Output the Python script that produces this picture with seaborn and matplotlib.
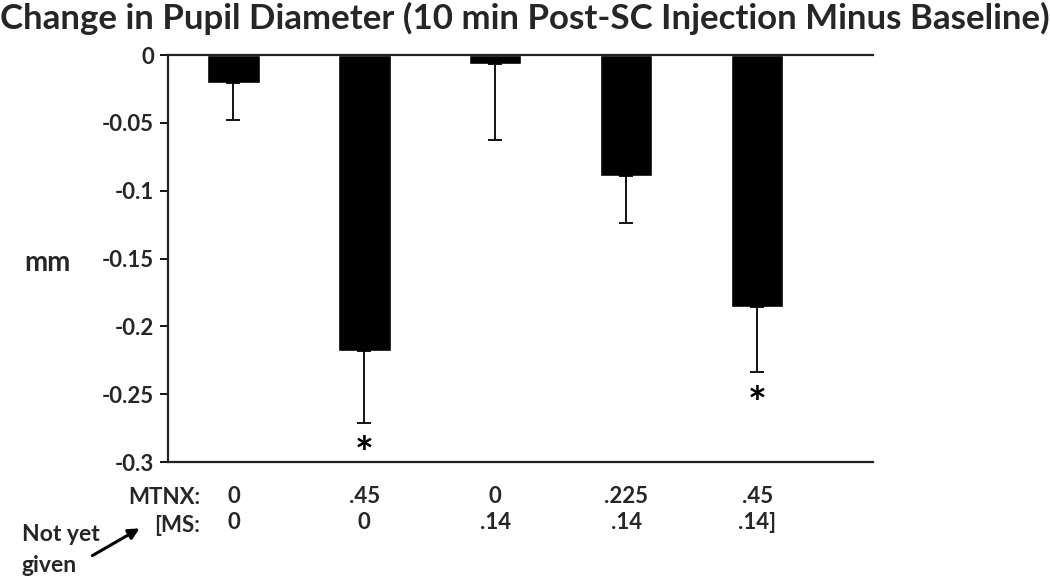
import matplotlib
matplotlib.use("Agg")
import matplotlib.pyplot as plt
import seaborn as sns
import pandas as pd
import numpy as np

# ---- data ----
groups = ["G1", "G2", "G3", "G4", "G5"]
mtnx_labels = ["0", ".45", "0", ".225", ".45"]
ms_labels = ["0", "0", ".14", ".14", ".14]"]
means = [-0.0206, -0.218, -0.0066, -0.0892, -0.186]
sem = [0.0274, 0.053, 0.0561, 0.0344, 0.048]
significant = [False, True, False, False, True]
yticks = [0, -0.05, -0.1, -0.15, -0.2, -0.25, -0.3]
ytick_labels = ["0", "-0.05", "-0.1", "-0.15", "-0.2", "-0.25", "-0.3"]

sns.set_theme(style="white")
plt.rcParams["font.family"] = ["Lato", "DejaVu Sans"]
plt.rcParams["font.weight"] = "bold"

df = pd.DataFrame({"group": groups, "mean": means})

fig = plt.figure(figsize=(10.5, 5.76), dpi=100)
ax = fig.add_axes([0.16, 0.1979, 0.6714, 0.7066])

sns.barplot(data=df, x="group", y="mean", color="black", width=0.4,
            errorbar=None, ax=ax, saturation=1)

x = np.arange(len(groups))
ax.errorbar(x, means, yerr=[sem, [0] * len(sem)], fmt="none",
            ecolor="black", elinewidth=1.3, capsize=5, capthick=1.3)

for xi, m, s, sig in zip(x, means, sem, significant):
    if sig:
        ax.text(xi, m - s - 0.024, "*", ha="center", va="center",
                fontsize=32, fontweight="bold", color="black")

ax.set_ylim(-0.3, 0)
ax.set_xlim(-0.5, 4.885)
ax.set_yticks(yticks)
ax.set_yticklabels(ytick_labels, fontsize=16, fontweight="bold")
ax.set_xticks(x)
ax.set_xticklabels([f"{a}\n{b}" for a, b in zip(mtnx_labels, ms_labels)],
                   fontsize=16, fontweight="bold", linespacing=1.3)
ax.tick_params(axis="x", length=0, pad=17)
ax.tick_params(axis="y", direction="out", length=6, width=1.3, color="black",
               left=True, pad=4)
ax.set_xlabel("")
ax.set_ylabel("")

for side in ["left", "top", "bottom"]:
    ax.spines[side].set_visible(True)
    ax.spines[side].set_color("#222222")
    ax.spines[side].set_linewidth(1.6)
ax.spines["right"].set_visible(False)

fig.text(0.5, 0.968, "Change in Pupil Diameter (10 min Post-SC Injection Minus Baseline)",
         ha="center", va="center", fontsize=25.1, fontweight="bold")
fig.text(24 / 1050, 1 - 263 / 576, "mm", ha="left", va="center",
         fontsize=20, fontweight="bold")
fig.text(200 / 1050, 1 - 498 / 576, "MTNX:", ha="right", va="center",
         fontsize=16, fontweight="bold")
fig.text(200 / 1050, 1 - 525 / 576, "[MS:", ha="right", va="center",
         fontsize=16, fontweight="bold")
fig.text(22 / 1050, 1 - 550 / 576, "Not yet\ngiven", ha="left", va="center",
         fontsize=16.5, fontweight="bold", linespacing=1.55)
ax.annotate("", xy=(142 / 1050, 1 - 527 / 576), xycoords="figure fraction",
            xytext=(90 / 1050, 1 - 557 / 576), textcoords="figure fraction",
            arrowprops=dict(arrowstyle="-|>", color="black", lw=2.2,
                            mutation_scale=16))

fig.savefig("out.png", dpi=100)
